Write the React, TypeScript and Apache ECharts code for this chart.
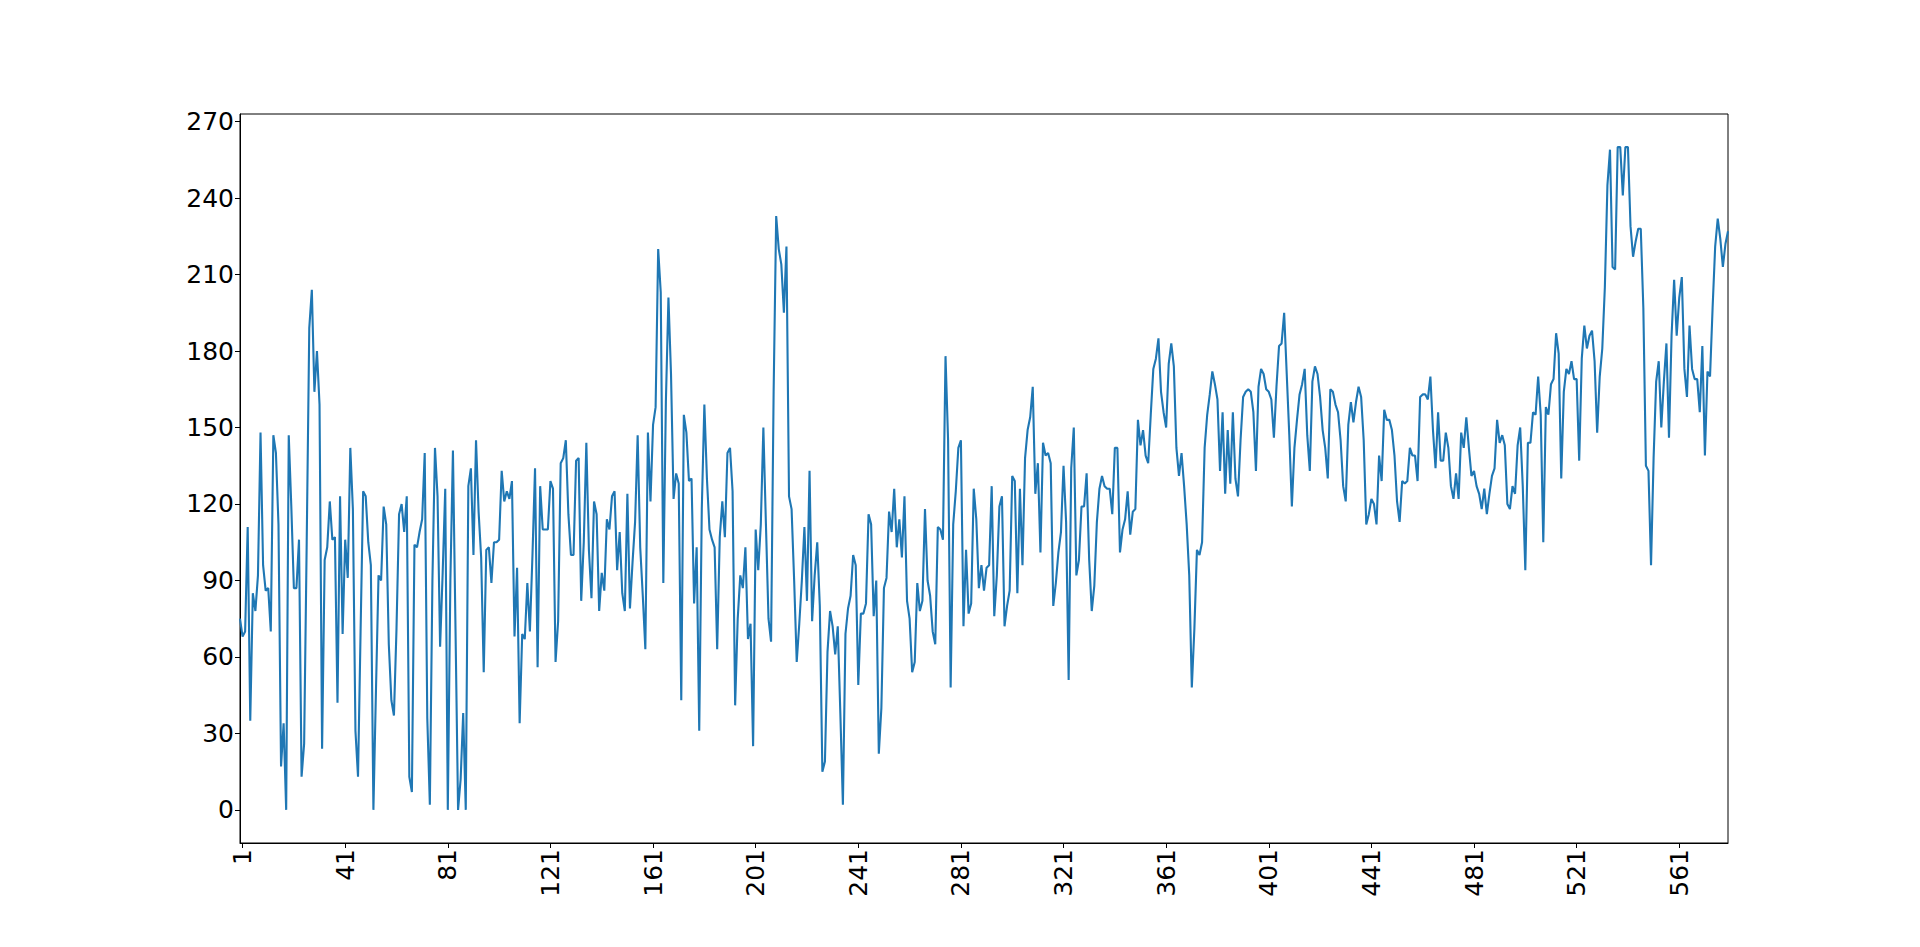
import React, { useEffect, useRef } from "react";
import * as echarts from "echarts";

// Series values, in order (index 0 .. 580)
const seg0: number[] = [
  75, 68, 70, 111, 35, 85, 78, 92, 148, 96, 86, 87, 70, 147, 140, 112, 17, 34, 0, 147,
  119, 87, 87, 106, 13, 26, 105, 189, 204, 164, 180, 159, 24, 98, 103, 121, 106, 107, 42, 123,
  69, 106, 91, 142, 118, 31, 13, 70, 125, 123, 105, 96, 0, 47, 92, 90, 119, 112, 65, 43,
  37, 71, 116, 120, 109, 123, 13, 7, 104, 103, 109, 114, 140, 36, 2, 90, 142, 123, 64, 93,
  126, 0, 90, 141, 71, 0, 12, 38, 0, 127, 134, 100, 145, 117, 99, 54, 102, 103, 89, 105,
];
const seg1: number[] = [
  105, 106, 133, 121, 125, 122, 129, 68, 95, 34, 69, 67, 89, 70, 100, 134, 56, 127, 110, 110,
  110, 129, 126, 58, 74, 136, 138, 145, 116, 100, 100, 137, 138, 82, 105, 144, 102, 83, 121, 116,
  78, 93, 86, 114, 110, 123, 125, 94, 109, 85, 78, 124, 79, 97, 113, 147, 103, 84, 63, 148,
  121, 151, 158, 220, 203, 89, 160, 201, 171, 122, 132, 128, 43, 155, 148, 129, 130, 81, 103, 31,
  118, 159, 130, 110, 106, 103, 63, 107, 121, 107, 140, 142, 125, 41, 75, 92, 87, 103, 67, 73,
];
const seg2: number[] = [
  25, 110, 94, 112, 150, 112, 75, 66, 164, 233, 220, 214, 195, 221, 123, 118, 90, 58, 73, 90,
  111, 82, 133, 74, 92, 105, 80, 15, 19, 62, 78, 72, 61, 72, 38, 2, 69, 79, 84, 100,
  96, 49, 77, 77, 81, 116, 112, 76, 90, 22, 40, 87, 91, 117, 109, 126, 103, 114, 99, 123,
  82, 75, 54, 58, 89, 78, 82, 118, 90, 84, 70, 65, 111, 110, 106, 178, 145, 48, 112, 125,
  142, 145, 72, 102, 77, 81, 126, 114, 87, 96, 86, 95, 96, 127, 76, 92, 119, 123, 72, 80,
];
const seg3: number[] = [
  86, 131, 129, 85, 126, 96, 138, 149, 154, 166, 124, 136, 101, 144, 139, 140, 136, 80, 89, 101,
  109, 135, 113, 51, 134, 150, 92, 98, 119, 119, 132, 98, 78, 88, 113, 126, 131, 127, 126, 126,
  116, 142, 142, 101, 110, 114, 125, 108, 117, 118, 153, 143, 149, 139, 136, 155, 173, 177, 185, 164,
  156, 150, 175, 183, 174, 142, 131, 140, 127, 112, 92, 48, 71, 102, 100, 105, 142, 155, 163, 172,
  167, 161, 133, 156, 124, 149, 128, 156, 130, 123, 145, 162, 164, 165, 164, 156, 133, 166, 173, 171,
];
const seg4: number[] = [
  165, 164, 161, 146, 166, 182, 183, 195, 171, 147, 119, 142, 153, 163, 167, 173, 147, 133, 168, 174,
  171, 162, 149, 142, 130, 165, 164, 159, 156, 145, 127, 121, 151, 160, 152, 160, 166, 162, 145, 112,
  116, 122, 120, 112, 139, 129, 157, 153, 153, 149, 139, 121, 113, 129, 128, 129, 142, 139, 139, 129,
  162, 163, 163, 161, 170, 149, 134, 156, 137, 137, 148, 142, 127, 122, 132, 122, 148, 142, 154, 142,
  131, 133, 127, 124, 118, 126, 116, 124, 131, 134, 153, 144, 147, 143, 120, 118, 127, 124, 143, 150,
];
const seg5: number[] = [
  127, 94, 144, 144, 156, 155, 170, 155, 105, 158, 155, 167, 169, 187, 179, 130, 164, 173, 171, 176,
  169, 169, 137, 177, 190, 181, 186, 188, 176, 148, 170, 181, 205, 245, 259, 213, 212, 260, 260, 241,
  260, 260, 229, 217, 223, 228, 228, 197, 135, 133, 96, 138, 168, 176, 150, 168, 183, 146, 186, 208,
  186, 201, 209, 173, 162, 190, 173, 169, 169, 156, 182, 139, 172, 170, 197, 221, 232, 224, 213, 222,
  227,
];

const values: number[] = [...seg0, ...seg1, ...seg2, ...seg3, ...seg4, ...seg5];
const categories: string[] = values.map((_, i) => String(i));
const yTicks: number[] = [0, 30, 60, 90, 120, 150, 180, 210, 240, 270];
const xTickStep = 40;
const xTickStart = 1;

const FONT = "DejaVu Sans";

export default function App() {
  const ref = useRef<HTMLDivElement>(null);
  useEffect(() => {
    if (!ref.current) return;
    const chart = echarts.init(ref.current, undefined, { renderer: "svg" });
    const showX = (idx: number) => idx >= xTickStart && (idx - xTickStart) % xTickStep === 0;
    chart.setOption({
      animation: false,
      backgroundColor: "#ffffff",
      grid: {
        left: 240,
        right: 192,
        top: 114,
        bottom: 104,
        show: true,
        borderColor: "#000000",
        borderWidth: 1,
        backgroundColor: "transparent",
      },
      xAxis: {
        type: "category",
        data: categories,
        boundaryGap: false,
        axisLine: { onZero: false, lineStyle: { color: "#000000", width: 1 } },
        axisTick: {
          show: true,
          interval: (idx: number) => showX(idx),
          length: 5,
          lineStyle: { color: "#000000", width: 1 },
        },
        axisLabel: {
          interval: (idx: number) => showX(idx),
          rotate: 90,
          margin: 6,
          color: "#000000",
          fontSize: 25,
          fontFamily: FONT,
        },
        splitLine: { show: false },
      },
      yAxis: {
        type: "value",
        min: -13,
        max: 273,
        axisLine: { show: true, lineStyle: { color: "#000000", width: 1 } },
        axisTick: {
          show: true,
          length: 5,
          customValues: yTicks,
          lineStyle: { color: "#000000", width: 1 },
        },
        axisLabel: {
          customValues: yTicks,
          margin: 6,
          color: "#000000",
          fontSize: 25,
          fontFamily: FONT,
        },
        splitLine: { show: false },
      },
      series: [
        {
          type: "line",
          data: values,
          showSymbol: false,
          symbol: "none",
          lineStyle: { color: "#1f77b4", width: 2.1 },
          itemStyle: { color: "#1f77b4" },
        },
      ],
    });
    return () => chart.dispose();
  }, []);
  return (
    <div
      ref={ref}
      style={{ position: "fixed", left: 0, top: 0, width: 1920, height: 947, background: "#fff" }}
    />
  );
}
